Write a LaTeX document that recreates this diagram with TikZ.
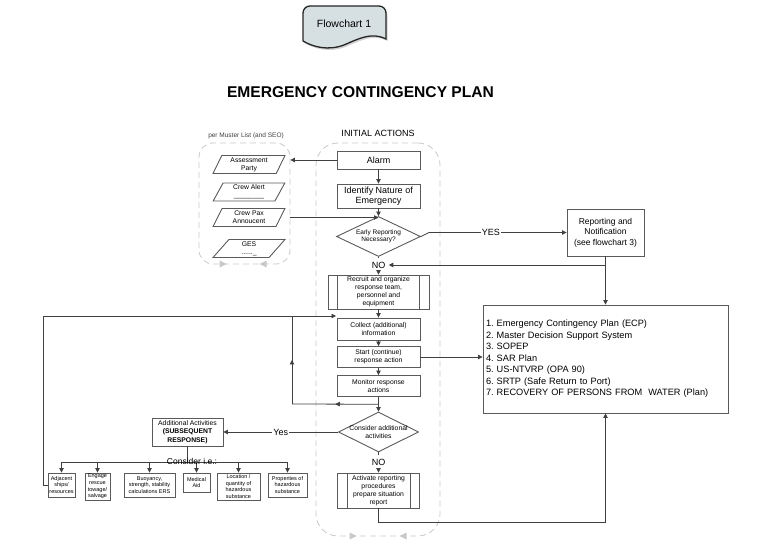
\documentclass[tikz,border=0pt]{standalone}
\usepackage{fontspec}
\setmainfont{Liberation Sans}
\usetikzlibrary{arrows.meta,shapes.geometric,decorations.markings,shadows,calc}

\definecolor{linegray}{RGB}{64,64,64}
\definecolor{boxgray}{RGB}{90,90,90}
\definecolor{groupgray}{RGB}{200,200,200}
\definecolor{tapefill}{RGB}{214,224,226}
\newcommand{\fsz}[2]{\fontsize{#1}{#2}\selectfont}
\frenchspacing

\begin{document}
\begin{tikzpicture}[x=1pt,y=-1pt]
\tikzstyle{box}=[draw=boxgray,line width=0.9pt,inner sep=0pt,align=center,font=\fsz{6.8}{8}]
\tikzstyle{bigbox}=[box,font=\fsz{9}{10.5}]
\tikzstyle{small box}=[box,font=\fsz{5.5}{6.6}]
\tikzstyle{decision}=[draw=boxgray,line width=0.9pt,diamond,aspect=2,inner sep=0pt]
\tikzstyle{io}=[draw=boxgray,line width=0.9pt,trapezium,trapezium left angle=67,trapezium right angle=113,trapezium stretches=true,minimum width=72pt,inner sep=0pt,align=center,font=\fsz{6.8}{8}]
\tikzstyle{group}=[draw=groupgray,dash pattern=on 6pt off 4pt,line width=0.8pt,inner sep=0pt]
\tikzstyle{line}=[draw=linegray,line width=0.8pt]
\tikzstyle{arr}=[line,-{Triangle[length=4.5pt,width=4.5pt]}]
\tikzstyle{midarr}=[line,postaction={decorate},decoration={markings,mark=at position 0.5 with {\arrow{Triangle[length=4.5pt,width=4.5pt]}}}]
\tikzstyle{lbl}=[font=\fsz{9}{10}]

\useasboundingbox (0,0) rectangle (774,545);

% header and title
\draw[fill=tapefill,draw=black!85,line width=1.3pt,drop shadow={shadow xshift=1.5pt,shadow yshift=-2pt,opacity=0.35}]
	(303,41) -- (303,13) arc[start angle=180,end angle=270,radius=7] -- (379,6)
	arc[start angle=270,end angle=360,radius=7] -- (386,39)
	.. controls (372,32) and (360,38) .. (344,45) .. controls (328,51) and (313,47) .. (303,41) -- cycle;
\node[font=\fsz{10.5}{12}] (fc) at (344,24) {Flowchart 1};
\node[font=\bfseries\fsz{15.6}{18}] (title) at (360.5,92) {EMERGENCY CONTINGENCY PLAN};

% groups
\node[group,rounded corners=14,minimum width=91pt,minimum height=121pt] (muster) at (244.5,203.5) {};
\node[font=\fsz{6.5}{7},text=black!75] (mustertxt) at (246,136) {per Muster List (and SEO)};
\node[group,rounded corners=22,minimum width=124pt,minimum height=393pt] (initial) at (378,339.5) {};
\node[font=\fsz{9}{10}] (initialtxt) at (378,133) {INITIAL ACTIONS};
\foreach \px/\py/\dir in {223/264/1, 263/264/-1, 353/536/1, 403/536/-1}
	\fill[groupgray] (\px-3.5*\dir,\py-3.5) -- (\px+3.5*\dir,\py) -- (\px-3.5*\dir,\py+3.5) -- cycle;

% muster list
\foreach \name/\py/\txt in {
	assess/164.5/{Assessment\\Party},
	crewalert/192/{Crew Alert\\\_\_\_\_\_\_\_\_},
	crewpax/217.5/{Crew Pax\\Annoucent},
	ges/248.5/{GES\\......\_}}
	\node[io,minimum height=18pt] (\name) at (249,\py) {\txt};

% initial actions
\node[bigbox,minimum width=83pt,minimum height=18pt] (alarm) at (378.5,160) {Alarm};
\node[bigbox,minimum width=83pt,minimum height=24pt] (ident) at (378.5,196) {Identify Nature of\\Emergency};
\node[decision,minimum width=84pt,minimum height=40pt,label={[font=\fsz{6.5}{7.5},align=center]center:Early Reporting\\Necessary?}] (early) at (378.5,236.5) {};
\node[lbl] (no1) at (378.5,265) {NO};
\node[box,minimum width=101pt,minimum height=34pt] (recruit) at (378.5,292) {Recruit and organize\\response team,\\personnel and\\equipment};
\node[box,minimum width=83pt,minimum height=22pt] (collect) at (378.5,329) {Collect (additional)\\information};
\node[box,minimum width=83pt,minimum height=21pt] (start) at (378.5,357) {Start (continue)\\response action};
\node[box,minimum width=83pt,minimum height=21pt] (monitor) at (378.5,386) {Monitor response\\actions};
\node[decision,minimum width=80pt,minimum height=40pt,label={[font=\fsz{6.8}{8},align=center]center:Consider additional\\activities}] (consider) at (378.5,432) {};
\node[lbl] (no2) at (378.5,462) {NO};
\node[box,minimum width=82pt,minimum height=35pt] (activate) at (378.5,490.5) {Activate reporting\\procedures\\prepare situation\\report};
\foreach \name in {recruit,activate}{
	\draw[boxgray,line width=0.9pt] ([xshift=10pt]\name.north west) -- ([xshift=10pt]\name.south west);
	\draw[boxgray,line width=0.9pt] ([xshift=-10pt]\name.north east) -- ([xshift=-10pt]\name.south east);
}

% right side
\node[box,font=\fsz{8.5}{10.5},minimum width=77pt,minimum height=47pt] (report) at (605.5,232.5) {Reporting and\\Notification\\(see flowchart 3)};
\node[box,font=\fsz{9.2}{11.5},align=left,text width=239pt,inner xsep=3pt,minimum height=108pt] (plans) at (605.5,359) {1. Emergency Contingency Plan (ECP)\\2. Master Decision Support System\\3. SOPEP\\4. SAR Plan\\5. US-NTVRP (OPA 90)\\6. SRTP (Safe Return to Port)\\7. RECOVERY OF PERSONS FROM\ \ WATER (Plan)};

% subsequent response
\node[box,minimum width=71pt,minimum height=28pt,font=\fsz{6.8}{8.5}] (addact) at (187.5,432) {Additional Activities\\\textbf{(SUBSEQUENT}\\\textbf{RESPONSE)}};
\foreach \name/\point/\bw/\bh/\txt in {
	adj/{61.5,485}/27pt/24pt/{Adjacent\\ships/\\resources},
	engage/{97.5,486.5}/25pt/27pt/{Engage\\rescue\\towage/\\salvage},
	buoy/{149.5,485}/51pt/24pt/{Buoyancy,\\strength, stability\\calculations ERS},
	medical/{196.5,482.5}/27pt/19pt/{Medical\\Aid},
	locat/{238.5,486.5}/43pt/27pt/{Location /\\quantity of\\hazardous\\substance},
	props/{287.5,485}/39pt/24pt/{Properties of\\hazardous\\substance}}
	\node[small box,minimum width=\bw,minimum height=\bh] (\name) at (\point) {\txt};

% connectors
\draw[arr] (alarm) -- (ident);
\draw[arr] (ident) -- (early);
\draw[arr] (alarm.west) -- (alarm.west -| muster.east);
\draw[arr] (crewpax.east -| muster.east) -- (crewpax.east -| early.north);
\draw[arr] (early.east) -- ++(8,-4) -- (report.west) node[lbl,pos=0.45,fill=white,inner sep=1pt] {YES};
\coordinate (rj) at (report.south |- no1);
\draw[arr] (report.south) -- (plans.north);
\draw[arr] (rj) -- (no1.east);
\draw[line] (early.south) -- (no1.north);
\draw[arr] (no1.south) -- (recruit.north);
\draw[arr] (recruit) -- (collect);
\draw[arr] (collect) -- (start);
\draw[arr] (start) -- (monitor);
\draw[arr] (monitor) -- (consider);
\draw[arr] (start.east) -- (start.east -| plans.west);
\draw[line] (consider.south) -- (no2.north);
\draw[arr] (no2.south) -- (activate.north);
\draw[arr] (activate.south) -- ++(0,14) -| (plans.south);
\draw[arr] (consider.west) -- (addact.east) node[lbl,midway,fill=white,inner sep=1pt] {Yes};

% feedback loops
\coordinate (mj) at ($(monitor.south)!0.5!(consider.north)$);
\coordinate (lpa) at (292,404);
\coordinate (lpb) at (292,316);
\coordinate (fb) at (336,316);
\draw[midarr] (mj) -- (lpa);
\draw[midarr] (lpa) -- (lpb);
\draw[arr] (adj.west) -- ++(-4,0) |- (fb);

% bus to the considerations
\coordinate (bus) at ($(addact.south)+(0,16)$);
\draw[line] (addact.south) -- (bus);
\draw[line] (adj.north |- bus) -- (props.north |- bus);
\foreach \name in {adj,engage,buoy,medical,locat,props}
	\draw[arr] (\name.north |- bus) -- (\name.north);
\node[font=\fsz{8.5}{10}] (consie) at (192,461) {Consider i.e.:};
\end{tikzpicture}
\end{document}
